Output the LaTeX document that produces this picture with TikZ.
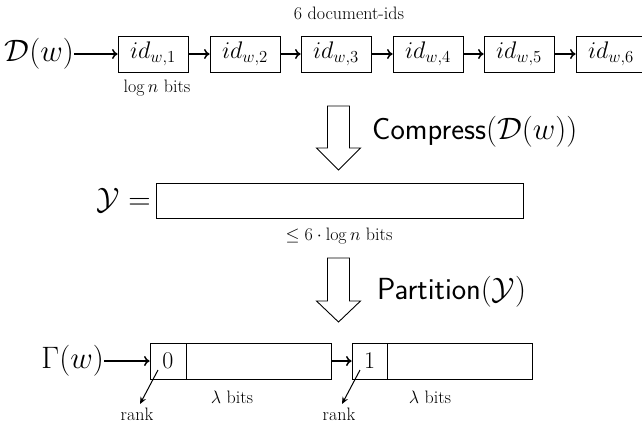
\RequirePackage{fix-cm}
\documentclass[tikz,border=0pt]{standalone}
\usepackage{amsmath,amssymb}
\usetikzlibrary{arrows.meta}
\newcommand\myfsS{\fontsize{18}{21}\selectfont}
\newcommand\myfsM{\fontsize{24}{28}\selectfont}
\newcommand\myfsL{\fontsize{31}{36}\selectfont}
\newcommand\myfsSans{\fontsize{30.5}{34}\selectfont}
\begin{document}
\begin{tikzpicture}[x=1pt,y=-1pt,
  cell/.style={draw, line width=0.9pt, minimum height=36pt, inner sep=0pt, font=\myfsM},
  lbl/.style={inner sep=0pt, font=\myfsS},
  big/.style={inner sep=0pt, font=\myfsL},
  arr/.style={line width=1.5pt, -{To[length=5.5pt,width=10pt]}},
  rankarr/.style={line width=1pt, -{Stealth[length=7pt,width=6pt]}},
  hollow/.style={draw, line width=0.9pt, fill=white, line join=miter}]
\useasboundingbox (0,0) rectangle (642,426);

% row 1
\node[big, anchor=east] (D) at (74,54) {$\mathcal{D}(w)$};
\node[cell, minimum width=70pt] (b1) at (153,54) {$id_{w,1}$};
\node[cell, minimum width=70pt] (b2) at (245,54) {$id_{w,2}$};
\node[cell, minimum width=70pt] (b3) at (336,54) {$id_{w,3}$};
\node[cell, minimum width=70pt] (b4) at (428,54) {$id_{w,4}$};
\node[cell, minimum width=70pt] (b5) at (519,54) {$id_{w,5}$};
\node[cell, minimum width=70pt] (b6) at (611,54) {$id_{w,6}$};
\draw[arr] (D) -- (b1);
\draw[arr] (b1) -- (b2);
\draw[arr] (b2) -- (b3);
\draw[arr] (b3) -- (b4);
\draw[arr] (b4) -- (b5);
\draw[arr] (b5) -- (b6);
\node[lbl] (top) at (349,13) {6 document-ids};
\node[lbl] (logn) at (157,88) {$\log n$ bits};

% hollow arrow 1
\coordinate (h1) at (338.5,106);
\draw[hollow] (h1) ++(-11,0) -- ++(22,0) -- ++(0,42) -- ++(11,0) -- ++(-22,22) -- ++(-22,-22) -- ++(11,0) -- cycle;
\node[big, anchor=west] (comp) at (372,132) {\textsf{\myfsSans Compress}$(\mathcal{D}(w))$};

% Y
\node[big, anchor=east] (Ylab) at (151,200) {$\mathcal{Y} =$};
\node[cell, minimum width=367pt, minimum height=35pt] (Y) at (339.5,200.5) {};
\node[lbl] (ylen) at (339,236) {$\leq 6\cdot\log n$ bits};

% hollow arrow 2
\coordinate (h2) at (338.5,258);
\draw[hollow] (h2) ++(-11,0) -- ++(22,0) -- ++(0,43) -- ++(11,0) -- ++(-22,21) -- ++(-22,-21) -- ++(11,0) -- cycle;
\node[big, anchor=west] (part) at (377,292) {\textsf{\myfsSans Partition}$(\mathcal{Y})$};

% Gamma row
\node[big, anchor=east] (G) at (104,361) {$\Gamma(w)$};
\node[cell, minimum width=36pt] (r0) at (168,361) {$0$};
\node[cell, minimum width=145pt] (d0) at (258.5,361) {};
\node[cell, minimum width=35pt] (r1) at (369.5,361) {$1$};
\node[cell, minimum width=145pt] (d1) at (459.5,361) {};
\draw[arr] (G) -- (r0);
\draw[arr] (d0) -- (r1);

\coordinate (k0s) at (158,370);
\coordinate (k0e) at (140,404);
\coordinate (k1s) at (360,370);
\coordinate (k1e) at (342,404);
\draw[rankarr] (k0s) -- (k0e);
\draw[rankarr] (k1s) -- (k1e);
\node[lbl] (rank0) at (137,414) {rank};
\node[lbl] (rank1) at (339,414) {rank};
\node[lbl] (lam0) at (232,397) {$\lambda$ bits};
\node[lbl] (lam1) at (430,397) {$\lambda$ bits};
\end{tikzpicture}
\end{document}
